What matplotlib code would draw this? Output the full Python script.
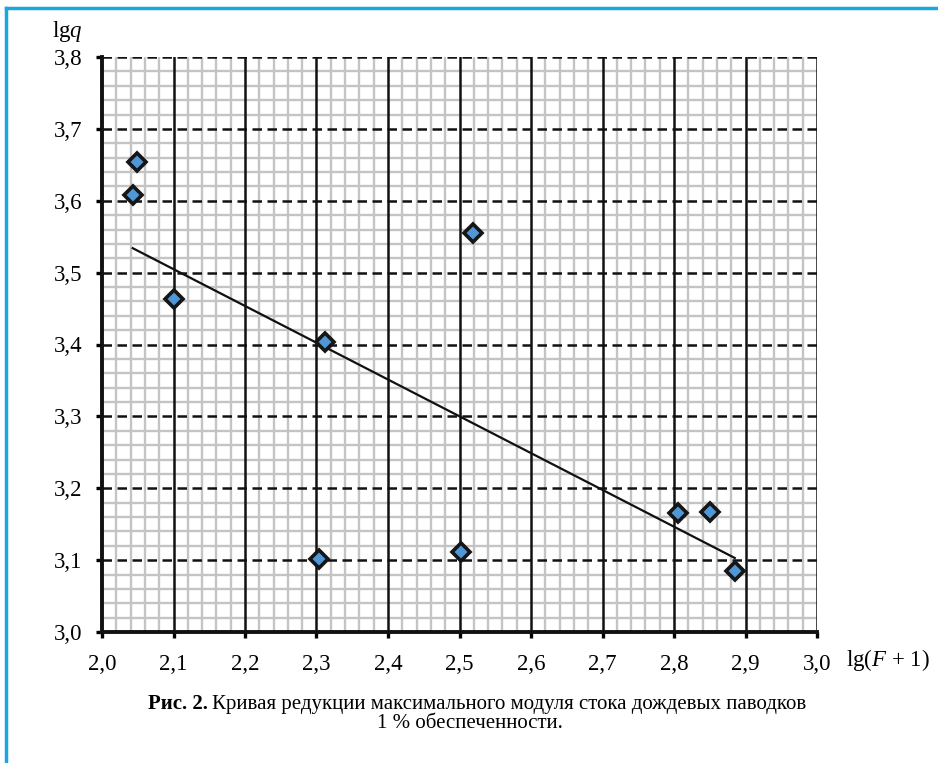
import numpy as np
import matplotlib
matplotlib.use("Agg")
import matplotlib.pyplot as plt
from matplotlib.ticker import MultipleLocator, FuncFormatter
from matplotlib.lines import Line2D

# Data (lg(F+1), lg q)
lgF = [2.049, 2.044, 2.100, 2.312, 2.304, 2.502, 2.519, 2.806, 2.850, 2.885]
lgq = [3.654, 3.608, 3.464, 3.404, 3.102, 3.111, 3.555, 3.165, 3.167, 3.085]

# Trend line end points
trendX = [2.043, 2.885]
trendY = [3.534, 3.103]

xTicks = [2.0, 2.1, 2.2, 2.3, 2.4, 2.5, 2.6, 2.7, 2.8, 2.9, 3.0]
yTicks = [3.0, 3.1, 3.2, 3.3, 3.4, 3.5, 3.6, 3.7, 3.8]

caption1 = "Кривая редукции максимального модуля стока дождевых паводков"
caption2 = "1 % обеспеченности."

plt.rcParams['font.family'] = ['Liberation Serif', 'DejaVu Serif']
plt.rcParams['mathtext.fontset'] = 'custom'
plt.rcParams['mathtext.rm'] = 'Liberation Serif'
plt.rcParams['mathtext.it'] = 'Liberation Serif:italic'

fig = plt.figure(figsize=(9.38, 7.63), dpi=100)
ax = fig.add_axes([102/938, 1-632/763, 715/938, 575/763])

ax.set_xlim(xTicks[0], xTicks[-1])
ax.set_ylim(yTicks[0], yTicks[-1])
ax.xaxis.set_major_locator(MultipleLocator(0.1))
ax.yaxis.set_major_locator(MultipleLocator(0.1))
ax.xaxis.set_minor_locator(MultipleLocator(0.02))
ax.yaxis.set_minor_locator(MultipleLocator(0.02))
comma = FuncFormatter(lambda v, p: "{0:.1f}".format(v).replace(".", ","))
ax.xaxis.set_major_formatter(comma)
ax.yaxis.set_major_formatter(comma)

# Minor (gray) grid underneath
ax.set_axisbelow(True)
ax.grid(which='minor', color='#c4c4c4', lw=1.7)
ax.tick_params(which='minor', length=0)
ax.tick_params(which='major', direction='out', length=4, width=2.4, labelsize=16.5)
ax.tick_params(axis='x', pad=12)
ax.tick_params(axis='y', pad=10)

# Major grid: solid verticals, dashed horizontals
for xv in xTicks[1:]:
    ax.axvline(xv, color='#111111', lw=1.8, zorder=1.5)
for yv in yTicks[1:]:
    ax.axhline(yv, color='#111111', lw=1.8, ls=(0, (3.8, 2.2)), zorder=1.5)

for s in ['left', 'bottom']:
    ax.spines[s].set_linewidth(2.8)
    ax.spines[s].set_color('#111111')
ax.spines['top'].set_visible(False)
ax.spines['right'].set_visible(False)

ax.plot(trendX, trendY, color='#111111', lw=1.6, zorder=2)
ax.plot(lgF, lgq, ls='none', marker='D', ms=9, mfc='#4f97d6', mec='#161616', mew=2.6, zorder=3)

fig.text(52/938, 1-31/763, r"lg$\mathit{q}$", fontsize=16.5, ha='left', va='center')
fig.text(846/938, 1-660/763, r"lg($\mathit{F}$ + 1)", fontsize=16.5, ha='left', va='center')

t1 = fig.text(148/938, 1-704/763, "Рис. 2.", fontsize=15, fontweight='bold', ha='left', va='center')
fig.canvas.draw()
bb = t1.get_window_extent()
fig.text(bb.x1/938 + 4/938, 1-704/763, caption1, fontsize=15, ha='left', va='center')
fig.text(470/938, 1-723/763, caption2, fontsize=15, ha='center', va='center')

# Blue frame (left and top)
fig.add_artist(Line2D([6/938, 6/938], [0, 1-8/763], color='#1ba6e2', lw=2.5))
fig.add_artist(Line2D([6/938, 1], [1-8/763, 1-8/763], color='#1ba6e2', lw=2.5))

fig.savefig("out.png", dpi=100)
